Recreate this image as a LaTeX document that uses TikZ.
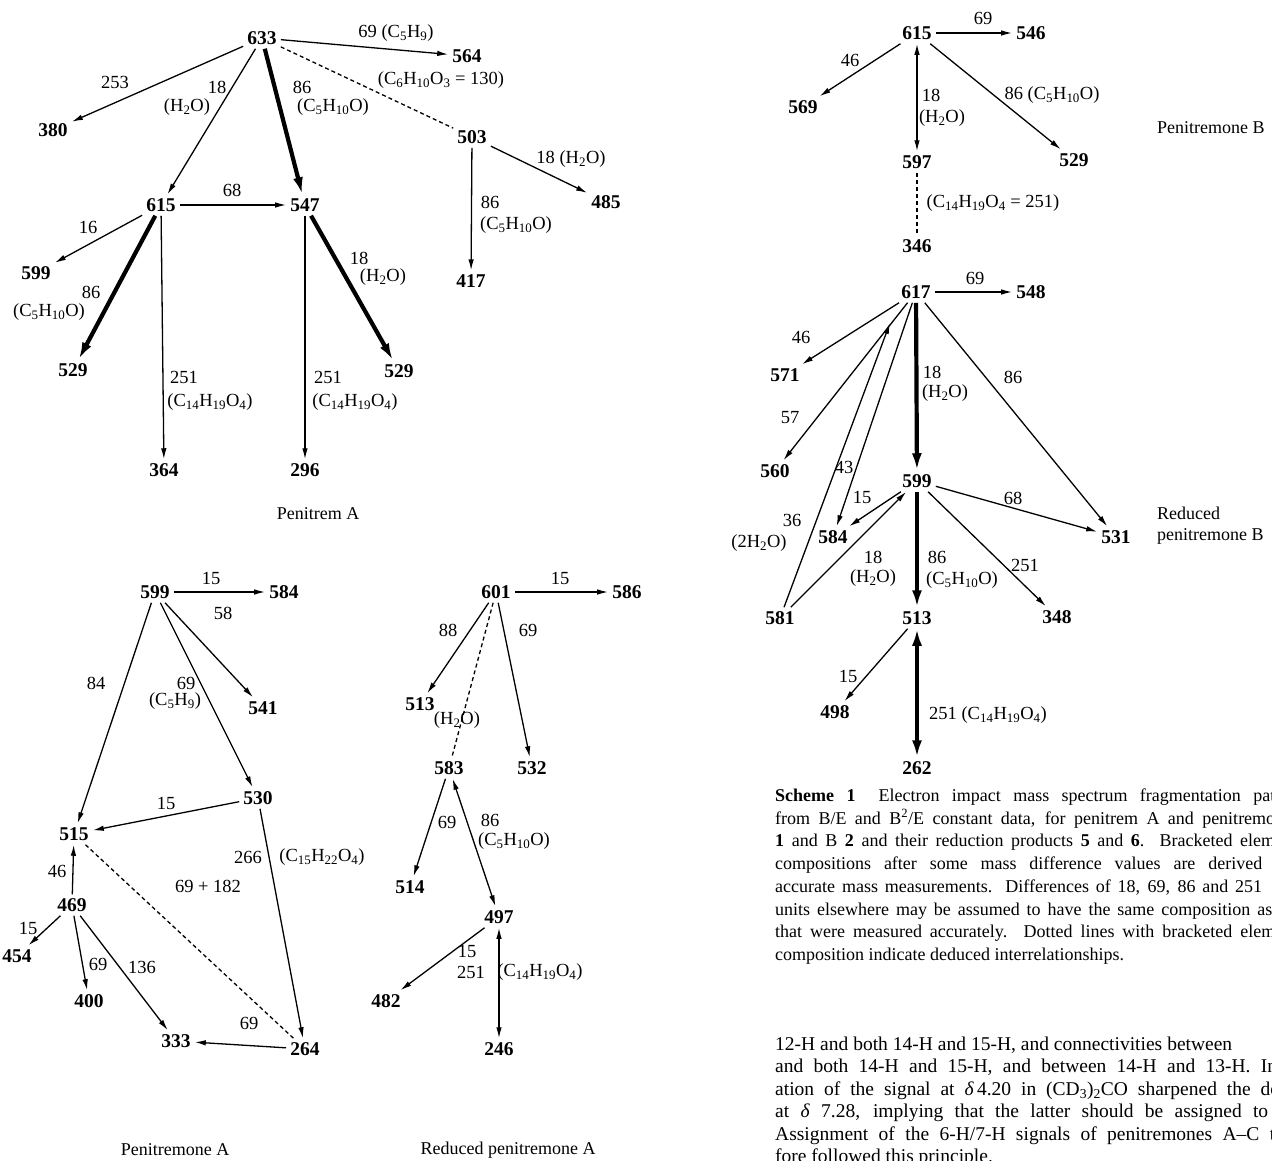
\documentclass[tikz,border=0pt]{standalone}
\usepackage{fontspec}
\setmainfont{Liberation Serif}
\usepackage{tikz}
\usetikzlibrary{arrows.meta}
\newcommand\sbs[1]{\textsubscript{#1}}

\tikzset{
    ion/.style = {font=\fontsize{19.5}{20}\selectfont\bfseries, inner sep=4pt},
    lab/.style = {font=\fontsize{18.5}{20}\selectfont, inner sep=0pt},
    scheme/.style = {font=\fontsize{18}{21}\selectfont, inner sep=0pt},
    capt/.style = {font=\fontsize{18}{20}\selectfont, inner sep=0pt, anchor=base west},
    prose/.style = {font=\fontsize{19.5}{22}\selectfont, inner sep=0pt, anchor=base west},
    line/.style = {draw=black, line width=1.3pt, -{Latex[length=11pt,width=5.5pt]}},
    heavy/.style = {draw=black, line width=4.2pt, -{Latex[length=17pt,width=10pt]}},
    twoway/.style = {draw=black, line width=1.3pt,
        {Latex[length=11pt,width=5.5pt]}-{Latex[length=11pt,width=5.5pt]}},
    heavytwo/.style = {draw=black, line width=4.2pt,
        {Latex[length=17pt,width=10pt]}-{Latex[length=17pt,width=10pt]}},
    dashline/.style = {draw=black, line width=1.3pt, dash pattern=on 4pt off 3pt}
}

\begin{document}
\begin{tikzpicture}[x=1pt, y=-1pt]
    \useasboundingbox (0,0) rectangle (1272,1160);
    \clip (0,0) rectangle (1272,1160);
    % ions: name/mass/x/y
    \foreach \n/\m/\x/\y in {
        pa633/633/262/38, pa564/564/467/56, pa380/380/53/130,
        pa503/503/472/137, pa485/485/606/202, pa615/615/161/205,
        pa547/547/305/205, pa599/599/36/273, pa417/417/471/281,
        pa529a/529/73/370, pa529b/529/399/371, pa364/364/164/470,
        pa296/296/305/470,
        ma599/599/155/592, ma584/584/284/592, ma541/541/263/708,
        ma530/530/258/798, ma515/515/74/834, ma469/469/72/905,
        ma454/454/17/956, ma400/400/89/1001, ma333/333/176/1041,
        ma264/264/305/1049,
        ra601/601/496/592, ra586/586/627/592, ra513/513/420/704,
        ra583/583/449/768, ra532/532/532/768, ra514/514/410/887,
        ra497/497/499/917, ra482/482/386/1001, ra246/246/499/1049,
        mb615/615/917/33, mb546/546/1031/33, mb569/569/803/107,
        mb597/597/917/162, mb529/529/1074/160, mb346/346/917/246,
        rb617/617/916/292, rb548/548/1031/292, rb571/571/785/375,
        rb560/560/775/471, rb599/599/917/481, rb584/584/833/537,
        rb531/531/1116/537, rb581/581/780/618, rb513/513/917/618,
        rb348/348/1057/617, rb498/498/835/712, rb262/262/917/768}
        \path node[ion] (\n) at (\x,\y) {\m};
    % where the 36 loss meets 617
    \coordinate (rb617in) at (890,323);
    % connectors
    \foreach \a/\b in {pa633/pa564, pa633/pa380, pa633/pa615, pa503/pa485,
        pa503/pa417, pa615/pa547, pa615/pa599, pa615/pa364, pa547/pa296,
        ma599/ma584, ma599/ma541, ma599/ma530, ma599/ma515, ma530/ma515,
        ma530/ma264, ma469/ma515, ma469/ma454, ma469/ma400, ma469/ma333,
        ma264/ma333,
        ra601/ra586, ra601/ra513, ra601/ra532, ra583/ra514, ra497/ra482,
        mb615/mb546, mb615/mb569, mb615/mb529,
        rb617/rb548, rb617/rb571, rb617/rb560, rb617/rb584, rb617/rb531,
        rb581/rb617in, rb599/rb584, rb599/rb531, rb599/rb348, rb581/rb599,
        rb513/rb498}
        \path[line] (\a) -- (\b);
    \foreach \a/\b in {pa633/pa547, pa615/pa529a, pa547/pa529b,
        rb617/rb599, rb599/rb513}
        \path[heavy] (\a) -- (\b);
    \foreach \a/\b in {pa633/pa503, ma515/ma264, ra601/ra583, mb597/mb346}
        \path[dashline] (\a) -- (\b);
    \foreach \a/\b in {ra583/ra497, ra497/ra246, mb615/mb597}
        \path[twoway] (\a) -- (\b);
    \path[heavytwo] (rb513) -- (rb262);
    % mass differences
    \foreach \x/\y/\t [count=\k] in {
        396/33/{69 (C\sbs{5}H\sbs{9})}, 441/80/{(C\sbs{6}H\sbs{10}O\sbs{3} = 130)},
        115/82/{253}, 217/87/{18}, 187/107/{(H\sbs{2}O)}, 302/87/{86},
        333/107/{(C\sbs{5}H\sbs{10}O)}, 571/159/{18 (H\sbs{2}O)}, 490/202/{86},
        516/225/{(C\sbs{5}H\sbs{10}O)}, 232/190/{68}, 88/227/{16}, 359/258/{18},
        383/277/{(H\sbs{2}O)}, 91/292/{86}, 49/312/{(C\sbs{5}H\sbs{10}O)},
        184/377/{251}, 210/402/{(C\sbs{14}H\sbs{19}O\sbs{4})}, 328/377/{251},
        355/402/{(C\sbs{14}H\sbs{19}O\sbs{4})},
        211/578/{15}, 223/613/{58}, 186/683/{69}, 175/701/{(C\sbs{5}H\sbs{9})},
        96/683/{84}, 166/803/{15}, 248/857/{266}, 322/857/{(C\sbs{15}H\sbs{22}O\sbs{4})},
        208/886/{69 + 182}, 57/871/{46}, 28/928/{15}, 98/964/{69}, 142/967/{136},
        249/1023/{69},
        560/578/{15}, 448/630/{88}, 528/630/{69}, 457/720/{(H\sbs{2}O)},
        447/822/{69}, 490/820/{86}, 514/841/{(C\sbs{5}H\sbs{10}O)}, 467/951/{15},
        471/972/{251}, 540/972/{(C\sbs{14}H\sbs{19}O\sbs{4})},
        983/18/{69}, 850/60/{46}, 931/95/{18}, 942/118/{(H\sbs{2}O)},
        1052/95/{86 (C\sbs{5}H\sbs{10}O)}, 993/203/{(C\sbs{14}H\sbs{19}O\sbs{4} = 251)},
        975/278/{69}, 801/337/{46}, 790/418/{57}, 844/467/{43}, 932/372/{18},
        945/393/{(H\sbs{2}O)}, 1013/377/{86}, 862/497/{15}, 1013/498/{68},
        792/520/{36}, 759/543/{(2H\sbs{2}O)}, 873/557/{18}, 873/578/{(H\sbs{2}O)},
        937/557/{86}, 962/580/{(C\sbs{5}H\sbs{10}O)}, 1025/565/{251}, 848/676/{15},
        988/715/{251 (C\sbs{14}H\sbs{19}O\sbs{4})}}
        \path node[lab] (lab\k) at (\x,\y) {\t};
    % compound names
    \node[scheme] (nameA) at (318,514) {Penitrem A};
    \node[scheme] (nameMA) at (175,1150) {Penitremone A};
    \node[scheme] (nameRA) at (508,1150) {Reduced penitremone A};
    \node[scheme, anchor=west] (nameMB) at (1157,128) {Penitremone B};
    \node[scheme, anchor=west, align=left] (nameRB) at (1157,526)
        {Reduced\\penitremone B};
    % caption
    \node[capt] (cap1) at (775,801) {\makebox[500pt][s]{\textbf{Scheme 1}\hspace{0.6em} Electron impact mass spectrum fragmentation pat}};
    \node[capt] (cap2) at (775,824) {\makebox[500pt][s]{from B/E and B\textsuperscript{2}/E constant data, for penitrem A and penitremo}};
    \node[capt] (cap3) at (775,846) {\makebox[500pt][s]{\textbf{1} and B \textbf{2} and their reduction products \textbf{5} and \textbf{6}. Bracketed elem}};
    \node[capt] (cap4) at (775,869) {\makebox[487pt][s]{compositions after some mass difference values are derived}};
    \node[capt] (cap5) at (775,892) {\makebox[487pt][s]{accurate mass measurements. Differences of 18, 69, 86 and 251}};
    \node[capt] (cap6) at (775,915) {\makebox[497pt][s]{units elsewhere may be assumed to have the same composition as}};
    \node[capt] (cap7) at (775,937) {\makebox[500pt][s]{that were measured accurately. Dotted lines with bracketed elem}};
    \node[capt] (cap8) at (775,960) {composition indicate deduced interrelationships.};
    % running text
    \node[prose] (txt1) at (775,1050) {\makebox[457pt][s]{12-H and both 14-H and 15-H, and connectivities between}};
    \node[prose] (txt2) at (775,1072.5) {\makebox[502pt][s]{and both 14-H and 15-H, and between 14-H and 13-H. In}};
    \node[prose] (txt3) at (775,1095) {\makebox[505pt][s]{ation of the signal at \textit{δ}\,4.20 in (CD\sbs{3})\sbs{2}CO sharpened the do}};
    \node[prose] (txt4) at (775,1117.5) {\makebox[493pt][s]{at \textit{δ} 7.28, implying that the latter should be assigned to}};
    \node[prose] (txt5) at (775,1140) {\makebox[500pt][s]{Assignment of the 6-H/7-H signals of penitremones A--C t}};
    \node[prose] (txt6) at (775,1162.5) {fore followed this principle.};
\end{tikzpicture}
\end{document}
